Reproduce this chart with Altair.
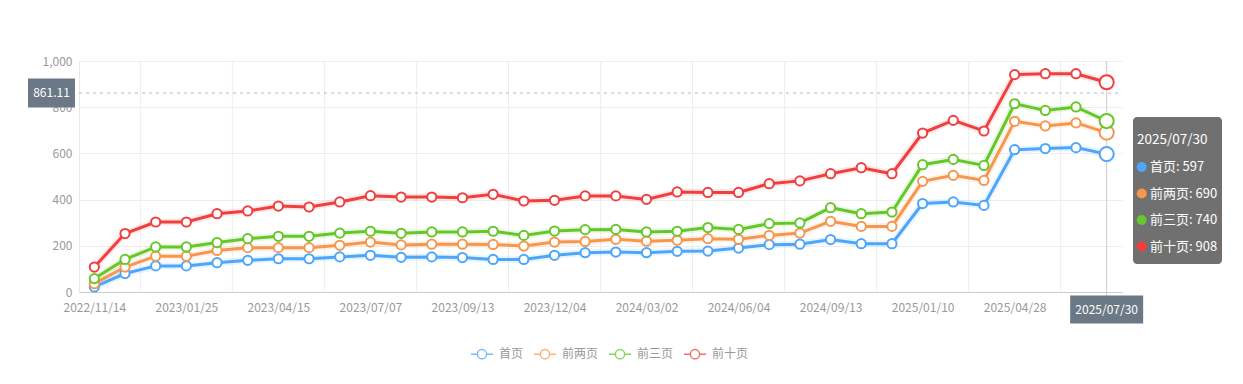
import altair as alt
import pandas as pd

dates = [
    "2022/11/14", "2022/12/08", "2022/12/31", "2023/01/25", "2023/02/21", "2023/03/20",
    "2023/04/15", "2023/05/12", "2023/06/09", "2023/07/07", "2023/07/30", "2023/08/22",
    "2023/09/13", "2023/10/10", "2023/11/07", "2023/12/04", "2024/01/03", "2024/02/01",
    "2024/03/02", "2024/04/03", "2024/05/04", "2024/06/04", "2024/07/08", "2024/08/11",
    "2024/09/13", "2024/10/23", "2024/12/01", "2025/01/10", "2025/02/15", "2025/03/23",
    "2025/04/28", "2025/05/29", "2025/06/29", "2025/07/30",
]
series_names = ["首页", "前两页", "前三页", "前十页"]
colors = ["#4ea6f9", "#f5974e", "#66c72a", "#ef3f3f"]
s_first = [22, 80, 113, 113, 127, 137, 144, 144, 152, 159, 150, 152, 149, 141, 141, 159, 170,
           173, 170, 176, 177, 190, 205, 207, 227, 209, 209, 383, 390, 375, 616, 621, 625, 597]
s_two = [36, 108, 155, 155, 180, 192, 192, 192, 202, 216, 204, 207, 207, 206, 199, 216, 219,
         228, 220, 224, 231, 228, 245, 255, 306, 284, 284, 479, 505, 483, 739, 719, 732, 690]
s_three = [58, 141, 195, 195, 214, 231, 241, 241, 255, 263, 254, 260, 260, 263, 245, 264, 270,
           271, 260, 263, 279, 271, 296, 299, 365, 339, 346, 551, 574, 548, 815, 786, 801, 740]
s_ten = [108, 253, 303, 303, 339, 351, 372, 368, 390, 417, 411, 411, 408, 423, 394, 397, 416,
         416, 401, 433, 431, 431, 469, 481, 512, 538, 512, 688, 743, 697, 941, 945, 945, 908]
all_series = [s_first, s_two, s_three, s_ten]
y_ticks = [0, 200, 400, 600, 800, 1000]
label_dates = dates[0:33:3]
grid_dates = dates[2::3]
pointer_value = 861.11
pointer_date = dates[-1]

rows = []
for name, vals in zip(series_names, all_series):
    for d, v in zip(dates, vals):
        rows.append({"date": d, "series": name, "value": v})
df = pd.DataFrame(rows)
df_last = df[df["date"] == pointer_date]
df_rest = df[df["date"] != pointer_date]

W, H = 1043, 231
STEP = W / len(dates)
FONT = "Noto Sans CJK SC"

x_enc = alt.X(
    "date:N", sort=dates,
    scale=alt.Scale(type="point", padding=0.5, domain=dates),
    axis=alt.Axis(values=label_dates, labelAngle=0, ticks=False, grid=False,
                  domainColor="#cccccc", labelColor="#999999", labelFontSize=12,
                  labelPadding=10, title=None, labelFont=FONT),
)
y_enc = alt.Y(
    "value:Q",
    scale=alt.Scale(domain=[0, 1000], nice=False),
    axis=alt.Axis(values=y_ticks, labelExpr="format(datum.value, ',.0f')", ticks=False,
                  domainColor="#e8e8e8", gridColor="#eeeeee", labelColor="#999999",
                  labelFontSize=12, labelPadding=7, title=None, labelFont=FONT),
)
stroke_scale = alt.Scale(domain=series_names, range=colors)
legend = alt.Legend(
    orient="none", legendX=391, legendY=281, direction="horizontal", title=None,
    symbolType="M-1,0L-0.42,0M0.42,0L1,0M-0.42,0A0.42,0.42,0,1,1,0.42,0A0.42,0.42,0,1,1,-0.42,0Z",
    symbolSize=484, symbolStrokeWidth=1.5, symbolFillColor="white", symbolOpacity=0.75,
    labelColor="#999999", labelFontSize=12, labelFont=FONT, labelOffset=5, columnPadding=7,
)
stroke_enc = alt.Stroke("series:N", scale=stroke_scale, legend=legend, sort=series_names)

vgrid = alt.Chart(pd.DataFrame({"date": grid_dates})).mark_rule(
    color="#eeeeee", strokeWidth=1, xOffset=-STEP / 2
).encode(x=x_enc, y=alt.value(0), y2=alt.value(H))

hline = alt.Chart(pd.DataFrame({"value": [pointer_value]})).mark_rule(
    color="#bbbbbb", strokeDash=[3, 4], strokeWidth=1
).encode(y=y_enc, x=alt.value(0), x2=alt.value(W))

vline = alt.Chart(pd.DataFrame({"date": [pointer_date]})).mark_rule(
    color="#cccccc", strokeWidth=1
).encode(x=x_enc, y=alt.value(0), y2=alt.value(H + 4))

halo = alt.Chart(df).mark_line(strokeWidth=7, opacity=0.12).encode(
    x=x_enc, y=y_enc, stroke=stroke_enc, detail="series:N")
lines = alt.Chart(df).mark_line(strokeWidth=3).encode(
    x=x_enc, y=y_enc, stroke=stroke_enc, detail="series:N")
pts = alt.Chart(df_rest).mark_point(
    shape="circle", filled=True, fill="white", strokeWidth=2, size=85, opacity=1
).encode(x=x_enc, y=y_enc, stroke=stroke_enc)
pts_last = alt.Chart(df_last).mark_point(
    shape="circle", filled=True, fill="white", strokeWidth=2, size=200, opacity=1
).encode(x=x_enc, y=y_enc, stroke=stroke_enc)

ybox_df = pd.DataFrame({"value": [pointer_value], "label": [f"{pointer_value:.2f}"]})
ybox = alt.Chart(ybox_df).mark_rect(color="#6a7985", yOffset=-14.5, y2Offset=14.5).encode(
    y=y_enc, y2="value:Q", x=alt.value(-51), x2=alt.value(-4))
ytext = alt.Chart(ybox_df).mark_text(
    color="white", fontSize=12, align="center", baseline="middle", font=FONT
).encode(y=y_enc, x=alt.value(-27.5), text="label:N")

xbox_df = pd.DataFrame({"date": [pointer_date]})
xbox = alt.Chart(xbox_df).mark_rect(color="#6a7985", xOffset=-36.5, x2Offset=36.5).encode(
    x=x_enc, x2="date:N", y=alt.value(H + 3.5), y2=alt.value(H + 31.5))
xtext = alt.Chart(xbox_df).mark_text(
    color="white", fontSize=12, align="center", baseline="middle", font=FONT
).encode(x=x_enc, y=alt.value(H + 17.5), text="date:N")

tip_box = alt.Chart(pd.DataFrame({"t": [pointer_date]})).mark_rect(
    color="#707070", cornerRadius=4
).encode(x=alt.value(1054), x2=alt.value(1143), y=alt.value(56), y2=alt.value(203))
tip_title = alt.Chart(pd.DataFrame({"t": [pointer_date]})).mark_text(
    color="white", fontSize=13.5, align="left", baseline="middle", font=FONT
).encode(x=alt.value(1058), y=alt.value(79), text="t:N")

tip_layers = []
for i, (name, col, vals) in enumerate(zip(series_names, colors, all_series)):
    d = pd.DataFrame({"t": [f"{name}: {vals[-1]}"]})
    yy = 106 + 26.5 * i
    tip_layers.append(alt.Chart(d).mark_circle(color=col, size=100, opacity=1).encode(
        x=alt.value(1062.7), y=alt.value(yy)))
    tip_layers.append(alt.Chart(d).mark_text(
        color="white", fontSize=13, align="left", baseline="middle", font=FONT
    ).encode(x=alt.value(1071), y=alt.value(yy), text="t:N"))

chart = alt.layer(
    vgrid, hline, vline, halo, lines, pts, pts_last, ybox, ytext, xbox, xtext,
    tip_box, tip_title, *tip_layers
).properties(
    width=W, height=H,
    autosize=alt.AutoSizeParams(type="none"),
    padding={"left": 71, "top": 53, "right": 113, "bottom": 80},
).configure(font=FONT).configure_view(stroke=None)

chart.save("out.html", embed_options={"renderer": "svg", "actions": False})
